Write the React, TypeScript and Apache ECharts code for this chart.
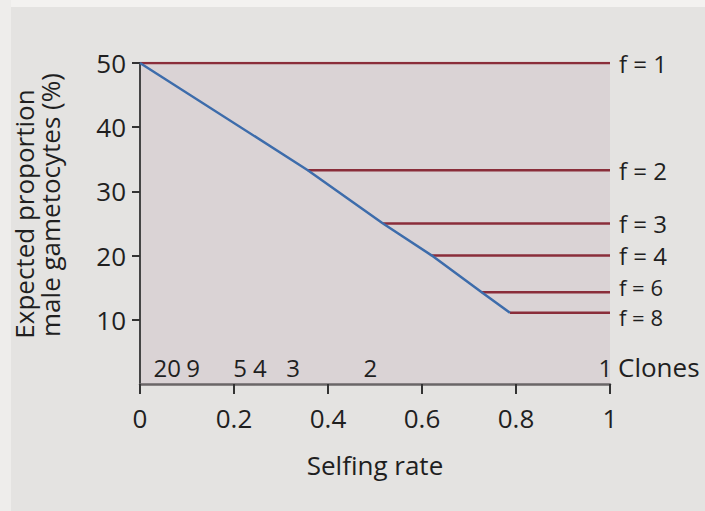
import React, { useEffect, useRef } from "react";
import * as echarts from "echarts";

// Selfing-rate axis ticks and levels
const xTicks = [0, 0.2, 0.4, 0.6, 0.8, 1];
const yTicks = [10, 20, 30, 40, 50];

// Horizontal lines: number of founding clones f and their level (%)
const fValues = [1, 2, 3, 4, 6, 8];
const fLevels = [50, 33.3, 25, 20, 14.3, 11.1];
const fStartSelfing = [0, 0.357, 0.517, 0.621, 0.727, 0.787];

// Blue diagonal (expected proportion vs selfing rate)
const blueSelfing = [0, 0.357, 0.517, 0.621, 0.727, 0.787];
const bluePercent = [50, 33.3, 25, 20, 14.3, 11.1];

// Clone counts along the bottom row
const cloneCounts = [20, 9, 5, 4, 3, 2, 1];
const cloneSelfing = [0.058, 0.113, 0.213, 0.255, 0.326, 0.49, 0.99];
const cloneRowY = 2.5;

const FONT = "'Open Sans', 'Noto Sans', sans-serif";
const FS = 26;
const TXT = "#1f1f1f";
const RED = "#8a2d3a";
const BLUE = "#3d6cab";

export default function App() {
  const ref = useRef<HTMLDivElement>(null);
  useEffect(() => {
    document.body.style.margin = "0";
    if (!ref.current) return;
    const chart = echarts.init(ref.current, null, { renderer: "svg" });

    const redSeries = fValues.map((f, i) => ({
      type: "line",
      name: `f = ${f}`,
      data: [
        [fStartSelfing[i], fLevels[i]],
        [1, fLevels[i]],
      ],
      symbol: "none",
      lineStyle: { color: RED, width: 2.5 },
      z: 2,
      silent: true,
      endLabel: {
        show: true,
        formatter: `f = ${f}`,
        distance: 9,
        fontSize: f >= 6 ? 22 : 24,
        lineHeight: 22,
        offset: f === 6 ? [0, -5] : f === 8 ? [0, 4] : [0, 0],
        fontFamily: FONT,
        color: TXT,
      },
    }));

    chart.setOption({
      animation: false,
      backgroundColor: "#e4e3e1",
      grid: {
        left: 140,
        top: 63,
        right: 95,
        bottom: 127,
        show: true,
        backgroundColor: "#dad3d5",
        borderWidth: 0,
      },
      xAxis: {
        type: "value",
        min: 0,
        max: 1,
        interval: 0.2,
        name: "Selfing rate",
        nameLocation: "middle",
        nameGap: 68,
        nameTextStyle: { fontSize: FS, fontFamily: FONT, color: TXT },
        axisLine: { show: true, lineStyle: { color: "#6a6667", width: 2.5 } },
        axisTick: { show: true, length: 10, lineStyle: { color: "#333", width: 2 } },
        axisLabel: {
          margin: 21,
          fontSize: FS,
          fontFamily: FONT,
          color: TXT,
          formatter: (v: number) => (xTicks.includes(v) ? String(v) : ""),
        },
        splitLine: { show: false },
      },
      yAxis: {
        type: "value",
        min: 0,
        max: 50,
        interval: 10,
        axisLine: { show: true, lineStyle: { color: "#444", width: 2 } },
        axisTick: {
          show: true,
          length: 8,
          customValues: yTicks,
          lineStyle: { color: "#333", width: 2 },
        },
        axisLabel: {
          margin: 14,
          fontSize: FS,
          fontFamily: FONT,
          color: TXT,
          customValues: yTicks,
        },
        splitLine: { show: false },
      },
      graphic: [
        { type: "rect", shape: { x: 0, y: 0, width: 705, height: 7 }, style: { fill: "#f3f2f0" }, z: 0 },
        { type: "rect", shape: { x: 0, y: 0, width: 11, height: 511 }, style: { fill: "#eeedeb" }, z: 0 },
        {
          type: "text",
          x: 24,
          y: 214,
          rotation: Math.PI / 2,
          style: {
            text: "Expected proportion",
            fontSize: FS,
            fontFamily: FONT,
            fill: TXT,
            textAlign: "center",
            textVerticalAlign: "middle",
          },
        },
        {
          type: "text",
          x: 50,
          y: 205,
          rotation: Math.PI / 2,
          style: {
            text: "male gametocytes (%)",
            fontSize: FS,
            fontFamily: FONT,
            fill: TXT,
            textAlign: "center",
            textVerticalAlign: "middle",
          },
        },
        {
          type: "text",
          x: 618,
          y: 367,
          style: {
            text: "Clones",
            fontSize: FS,
            fontFamily: FONT,
            fill: TXT,
            textAlign: "left",
            textVerticalAlign: "middle",
          },
        },
      ],
      series: [
        ...redSeries,
        {
          type: "line",
          name: "selfing",
          data: blueSelfing.map((s, i) => [s, bluePercent[i]]),
          symbol: "none",
          lineStyle: { color: BLUE, width: 2.5 },
          z: 3,
          silent: true,
        },
        {
          type: "scatter",
          name: "clones",
          data: cloneSelfing.map((s, i) => [s, cloneRowY, cloneCounts[i]]),
          symbolSize: 1,
          itemStyle: { color: "rgba(0,0,0,0)", opacity: 1 },
          silent: true,
          label: {
            show: true,
            position: "inside",
            formatter: (p: any) => String(p.value[2]),
            fontSize: 24,
            fontFamily: FONT,
            color: TXT,
            opacity: 1,
            textBorderWidth: 0,
          },
        },
      ],
    });
    return () => chart.dispose();
  }, []);
  return <div ref={ref} style={{ width: 705, height: 511 }} />;
}
